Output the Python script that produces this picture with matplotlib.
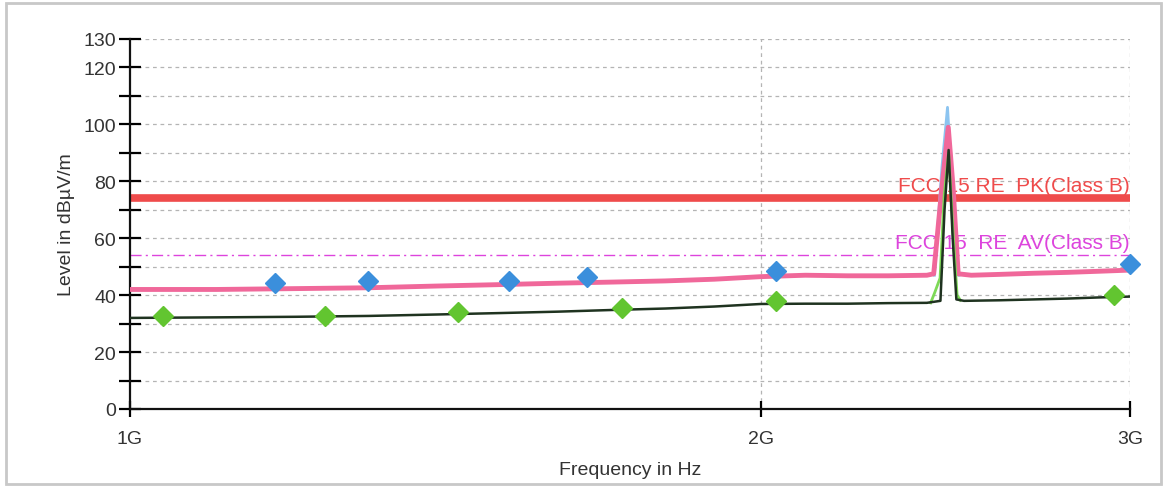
import numpy as np
import matplotlib.pyplot as plt
from matplotlib.patches import Rectangle

plt.rcParams['font.family'] = ['Liberation Sans', 'DejaVu Sans']

# max-hold peak trace (GHz, dBuV/m)
pk_f = [1.00, 1.10, 1.20, 1.30, 1.40, 1.50, 1.60, 1.70, 1.80, 1.90, 2.00, 2.10, 2.20,
        2.30, 2.40, 2.418, 2.44, 2.457, 2.47, 2.484, 2.52, 2.60, 2.70, 2.80, 2.90, 3.00]
pk_lvl = [42.0, 42.0, 42.3, 42.6, 43.2, 43.7, 44.2, 44.6, 45.0, 45.6, 46.5, 47.0, 46.8,
          46.8, 47.0, 47.5, 78.0, 99.0, 78.0, 47.5, 47.0, 47.3, 47.7, 48.0, 48.4, 48.8]

# second peak sweep around the carrier
pk2_f = [2.42, 2.44, 2.455, 2.475, 2.486]
pk2_lvl = [47.0, 85.0, 106.0, 62.0, 47.0]

# average trace
av_f = [1.00, 1.10, 1.20, 1.30, 1.40, 1.50, 1.60, 1.70, 1.80, 1.90, 2.00, 2.10, 2.20,
        2.30, 2.40, 2.436, 2.447, 2.458, 2.469, 2.479, 2.50, 2.60, 2.70, 2.80, 2.90, 3.00]
av_lvl = [32.0, 32.2, 32.4, 32.7, 33.2, 33.7, 34.2, 34.8, 35.3, 36.0, 36.9, 37.0, 37.0,
          37.2, 37.3, 38.0, 70.0, 91.0, 60.0, 38.5, 38.0, 38.2, 38.5, 38.8, 39.2, 39.5]

# second average sweep around the carrier
av2_f = [2.41, 2.421, 2.435, 2.446, 2.458, 2.47, 2.481, 2.49]
av2_lvl = [37.3, 41.0, 46.0, 75.0, 90.0, 62.0, 40.0, 38.2]

# final measurement points
qp_f = [1.173, 1.299, 1.516, 1.652, 2.034, 3.000]
qp_lvl = [44.3, 45.0, 45.0, 46.4, 48.5, 50.9]
av_pt_f = [1.037, 1.239, 1.434, 1.717, 2.034, 2.947]
av_pt_lvl = [32.7, 32.7, 34.1, 35.5, 37.9, 40.1]

pk_limit = 74
av_limit = 54

fig = plt.figure(figsize=(11.68, 4.89), dpi=100)
ax = fig.add_axes([130 / 1168, 1 - 410 / 489, 1000 / 1168, 370 / 489])

G = 1e9
ax.set_xscale('log')
ax.set_xlim(1 * G, 3 * G)
ax.set_ylim(0, 130)

# grid
for y in range(10, 131, 10):
    ax.axhline(y, color='#b4b4b4', lw=0.9, ls=(0, (3, 3)), zorder=0)
for x in (2 * G, 3 * G):
    ax.axvline(x, color='#b4b4b4', lw=0.9, ls=(0, (3, 3)), zorder=0)

# limits
ax.axhline(pk_limit, color='#ef4b4b', lw=5.5, zorder=1)
ax.axhline(av_limit, color='#dd44dd', lw=1.0, ls=(0, (8, 3, 1.5, 3)), zorder=1)
ax.text(3 * G, pk_limit + 1.2, 'FCC 15 RE  PK(Class B)', color='#ef4b4b',
        fontsize=15, ha='right', va='bottom', zorder=1)
ax.text(3 * G, av_limit + 1.2, 'FCC 15  RE  AV(Class B)', color='#dd44dd',
        fontsize=15, ha='right', va='bottom', zorder=1)

# traces
ax.plot(np.array(pk2_f) * G, pk2_lvl, color='#8cc4f0', lw=2.0, zorder=2)
ax.plot(np.array(pk_f) * G, pk_lvl, color='#f0689a', lw=3.5, zorder=3)
ax.plot(np.array(av2_f) * G, av2_lvl, color='#7ed957', lw=2.0, zorder=3)
ax.plot(np.array(av_f) * G, av_lvl, color='#1f3320', lw=1.8, zorder=4)

# measurement markers
ax.plot(np.array(qp_f) * G, qp_lvl, 'D', color='#3b8fdc', ms=10, zorder=5, clip_on=False)
ax.plot(np.array(av_pt_f) * G, av_pt_lvl, 'D', color='#62c530', ms=10, zorder=5, clip_on=False)

# axes styling
for side in ('top', 'right'):
    ax.spines[side].set_visible(False)
for side in ('left', 'bottom'):
    ax.spines[side].set_linewidth(1.6)
    ax.spines[side].set_color('#111111')

ax.set_yticks(range(0, 131, 10))
ax.set_yticklabels(['0', '', '20', '', '40', '', '60', '', '80', '', '100', '', '120', '130'])
ax.set_xticks([1 * G, 2 * G, 3 * G])
ax.set_xticklabels(['1G', '2G', '3G'])
ax.minorticks_off()
ax.tick_params(axis='y', direction='inout', length=16, width=1.6, labelsize=14,
               labelcolor='#333333', pad=2)
ax.tick_params(axis='x', direction='inout', length=12, width=1.6, labelsize=14,
               labelcolor='#333333', pad=9)

ax.set_xlabel('Frequency in Hz', fontsize=14, color='#333333', labelpad=10)
ax.set_ylabel('Level in dBµV/m', fontsize=14, color='#333333', labelpad=6)

fig.patches.append(Rectangle((6 / 1168, 4 / 489), 1155 / 1168, 481 / 489,
                             transform=fig.transFigure, fill=False,
                             edgecolor='#c8c8c8', lw=2))

fig.savefig('out.png', dpi=100)
